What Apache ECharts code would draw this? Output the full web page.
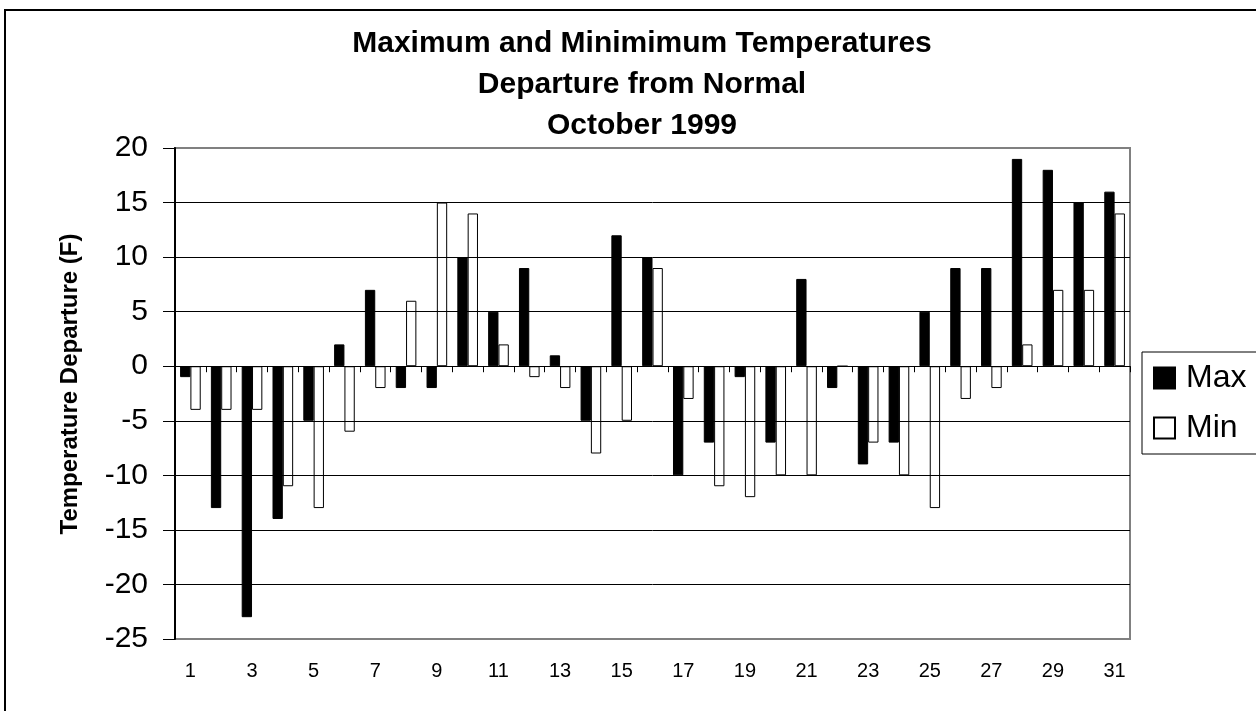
<!DOCTYPE html>
<html>
<head>
<meta charset="utf-8">
<script src="https://cdn.jsdelivr.net/npm/echarts@6/dist/echarts.min.js"></script>
<style>
html,body{margin:0;padding:0;background:#fff;}
#chart{width:1256px;height:711px;}
</style>
</head>
<body>
<div id="chart"></div>
<script>
const days = ['1','2','3','4','5','6','7','8','9','10','11','12','13','14','15','16','17','18','19','20','21','22','23','24','25','26','27','28','29','30','31'];
const maxDeparture = [-1,-13,-23,-14,-5,2,7,-2,-2,10,5,9,1,-5,12,10,-10,-7,-1,-7,8,-2,-9,-7,5,9,9,19,18,15,16];
const minDeparture = [-4,-4,-4,-11,-13,-6,-2,6,15,14,2,-1,-2,-8,-5,9,-3,-11,-12,-10,-10,0,-7,-10,-13,-3,-2,2,7,7,14];
const titleLines = ['Maximum and Minimimum Temperatures','Departure from Normal','October 1999'];
const yAxisTitle = 'Temperature Departure (F)';
const seriesNames = ['Max','Min'];

const FONT = '"Liberation Sans", Arial, sans-serif';
const chart = echarts.init(document.getElementById('chart'));
chart.setOption({
  backgroundColor: '#fff',
  animation: false,
  title: {
    text: titleLines.join('\n'),
    left: 637,
    top: 18,
    textAlign: 'center',
    textStyle: {fontFamily: FONT, fontWeight: 'bold', fontSize: 30, lineHeight: 41, color: '#000'}
  },
  graphic: [{
    type: 'rect',
    shape: {x: 5, y: 10, width: 1400, height: 900},
    style: {fill: 'none', stroke: '#000', lineWidth: 2},
    z: -1
  }, {
    type: 'text',
    x: 70,
    y: 384,
    rotation: Math.PI / 2,
    style: {
      text: yAxisTitle,
      fontFamily: FONT, fontWeight: 'bold', fontSize: 24, fill: '#000',
      align: 'center', verticalAlign: 'middle'
    }
  }],
  legend: {
    orient: 'vertical',
    left: 1142,
    top: 352,
    padding: [10, 20, 10, 11],
    itemWidth: 21,
    itemHeight: 21,
    itemGap: 18,
    borderColor: '#000',
    borderWidth: 1,
    icon: 'rect',
    textStyle: {fontFamily: FONT, fontSize: 32, color: '#000', padding: [0, 0, 0, 6]},
    data: seriesNames
  },
  grid: {
    left: 175, top: 148, right: 126, bottom: 72,
    show: true, borderColor: '#808080', borderWidth: 2, backgroundColor: '#fff'
  },
  xAxis: [{
    type: 'category',
    data: days,
    axisLine: {onZero: true, lineStyle: {color: '#000', width: 1}},
    axisTick: {show: true, length: 6, lineStyle: {color: '#000'}},
    axisLabel: {show: false},
    splitLine: {show: false}
  }, {
    type: 'category',
    data: days,
    position: 'bottom',
    axisLine: {show: false, onZero: false},
    axisTick: {show: false},
    axisLabel: {interval: 1, margin: 22, fontFamily: FONT, fontSize: 20, color: '#000'},
    splitLine: {show: false}
  }],
  yAxis: {
    type: 'value',
    min: -25, max: 20, interval: 5,
    z: 3,
    axisLine: {show: true, lineStyle: {color: '#000', width: 2}},
    axisTick: {show: true, length: 12, lineStyle: {color: '#000', width: 1}},
    axisLabel: {margin: 27, fontFamily: FONT, fontSize: 30, color: '#000'},
    splitLine: {show: true, showMinLine: false, showMaxLine: false, lineStyle: {color: '#000', width: 1}}
  },
  series: [{
    name: seriesNames[0],
    type: 'bar',
    xAxisIndex: 0,
    data: maxDeparture,
    barGap: '0%',
    barCategoryGap: '33%',
    itemStyle: {color: '#000', borderColor: '#000', borderWidth: 1}
  }, {
    name: seriesNames[1],
    type: 'bar',
    xAxisIndex: 0,
    data: minDeparture,
    itemStyle: {color: '#fff', borderColor: '#000', borderWidth: 1}
  }]
});
</script>
</body>
</html>
